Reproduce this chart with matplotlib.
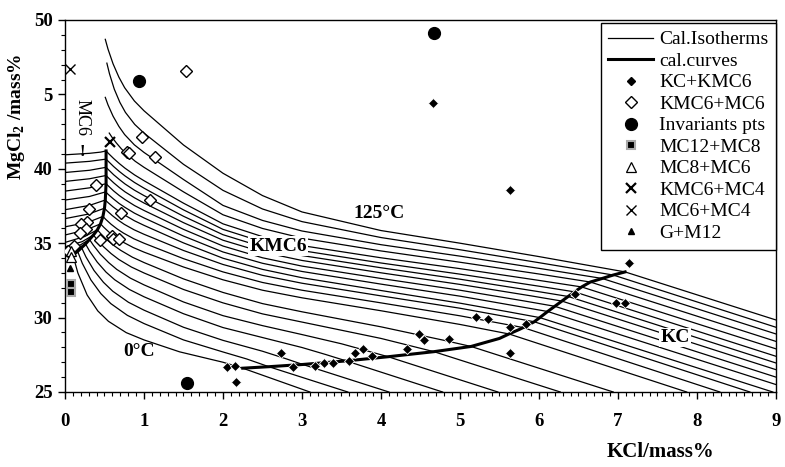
import numpy as np
import matplotlib
matplotlib.use("Agg")
import matplotlib.pyplot as plt
from matplotlib.lines import Line2D

plt.rcParams["font.family"] = ["Liberation Serif", "DejaVu Serif"]
plt.rcParams["mathtext.fontset"] = "custom"
plt.rcParams["mathtext.rm"] = "Liberation Serif"
plt.rcParams["mathtext.bf"] = "Liberation Serif:bold"

# ******************************************************************************************************************** #
# calculated isotherms (0 C at index 0 ... 125 C at the end)

iso_x = [
    [0, 0.10, 0.163, 0.28, 0.415, 0.55, 0.775, 1.0, 1.45, 2.0, 2.25, 3.10],
    [0, 0.10, 0.16, 0.219, 0.328, 0.454, 0.58, 0.79, 1.0, 1.5, 2.0, 2.3, 2.58, 3.58],
    [0, 0.13, 0.21, 0.265, 0.368, 0.487, 0.605, 0.803, 1.0, 1.5, 2.0, 2.5, 2.8, 3.01, 4.10],
    [0, 0.16, 0.26, 0.312, 0.408, 0.519, 0.63, 0.815, 1.0, 1.5, 2.0, 2.5, 3.0, 3.3, 3.56, 4.78],
    [0, 0.19, 0.31, 0.358, 0.448, 0.552, 0.655, 0.828, 1.0, 1.5, 2.0, 2.5, 3.0, 3.5, 3.8, 4.09, 5.48],
    [0, 0.22, 0.36, 0.405, 0.488, 0.584, 0.68, 0.84, 1.0, 1.5, 2.0, 2.5, 3.0, 4.0, 4.4, 4.67, 6.27],
    [0, 0.25, 0.41, 0.451, 0.528, 0.617, 0.705, 0.853, 1.0, 1.5, 2.0, 2.5, 3.0, 4.0, 4.8, 5.14, 6.94],
    [0, 0.27, 0.45, 0.489, 0.56, 0.643, 0.725, 0.863, 1.0, 1.5, 2.0, 2.5, 3.0, 4.0, 5.0, 5.62, 7.87],
    [0, 0.29, 0.48, 0.516, 0.584, 0.662, 0.74, 0.87, 1.0, 1.5, 2.0, 2.5, 3.0, 4.0, 5.0, 5.80, 8.29],
    [0, 0.30, 0.50, 0.535, 0.6, 0.675, 0.75, 0.875, 1.0, 1.5, 2.0, 2.5, 3.0, 4.0, 5.0, 5.6, 5.94, 8.67],
    [0, 0.31, 0.51, 0.544, 0.608, 0.682, 0.755, 0.878, 1.0, 1.5, 2.0, 2.5, 3.0, 4.0, 5.0, 5.6, 6.01, 8.96],
    [0, 0.31, 0.515, 0.549, 0.612, 0.685, 0.758, 0.879, 1.0, 1.5, 2.0, 2.5, 3.0, 4.0, 5.0, 5.7, 6.11, 9.0],
    [0, 0.31, 0.52, 0.554, 0.616, 0.688, 0.76, 0.88, 1.0, 1.5, 2.0, 2.5, 3.0, 4.0, 5.0, 5.8, 6.20, 9.0],
    [0, 0.31, 0.52, 0.554, 0.616, 0.688, 0.76, 0.88, 1.0, 1.5, 2.0, 2.5, 3.0, 4.0, 5.0, 5.9, 6.29, 9.0],
    [0, 0.31, 0.52, 0.554, 0.616, 0.688, 0.76, 0.88, 1.0, 1.5, 2.0, 2.5, 3.0, 4.0, 5.0, 6.0, 6.37, 9.0],
    [0, 0.31, 0.52, 0.554, 0.616, 0.688, 0.76, 0.88, 1.0, 1.5, 2.0, 2.5, 3.0, 4.0, 5.0, 6.0, 6.45, 9.0],
    [0, 0.31, 0.45, 0.52, 0.554, 0.616, 0.688, 0.76, 0.88, 1.0, 1.5, 2.0, 2.5, 3.0, 4.0, 5.0, 6.0, 6.54, 9.0],
    [0.56, 0.591, 0.648, 0.714, 0.78, 0.89, 1.0, 1.5, 2.0, 2.5, 3.0, 4.0, 5.0, 6.0, 6.65, 9.0],
    [0.51, 0.544, 0.608, 0.682, 0.755, 0.878, 1.0, 1.5, 2.0, 2.5, 3.0, 4.0, 5.0, 6.0, 6.80, 9.0],
    [0.53, 0.563, 0.624, 0.695, 0.765, 0.883, 1.0, 1.5, 2.0, 2.5, 3.0, 4.0, 5.0, 6.0, 6.94, 9.0],
    [0.51, 0.544, 0.608, 0.682, 0.755, 0.878, 1.0, 1.5, 2.0, 2.5, 3.0, 4.0, 5.0, 6.0, 7.09, 9.0],
]
iso_y = [
    [34.25, 34.2, 33.0, 31.52, 30.45, 29.75, 28.99, 28.5, 27.7, 27.0, 26.6, 25.0],
    [34.3, 34.37, 34.45, 33.65, 32.53, 31.61, 30.94, 30.15, 29.6, 28.5, 27.69, 27.22, 26.7, 25.0],
    [34.35, 34.5, 34.7, 34.08, 33.16, 32.37, 31.77, 31.03, 30.5, 29.35, 28.47, 27.74, 27.23, 26.85, 25.0],
    [34.4, 34.65, 34.95, 34.46, 33.73, 33.06, 32.54, 31.89, 31.4, 30.26, 29.33, 28.66, 27.99, 27.52, 27.09, 25.0],
    [34.55, 34.87, 35.25, 34.87, 34.26, 33.70, 33.24, 32.65, 32.2, 31.05, 30.13, 29.46, 28.86, 28.24, 27.80, 27.37, 25.0],
    [34.75, 35.11, 35.55, 35.25, 34.76, 34.30, 33.91, 33.40, 33.0, 31.89, 30.99, 30.25, 29.70, 28.60, 28.07, 27.71, 25.0],
    [35.05, 35.45, 35.9, 35.65, 35.24, 34.85, 34.52, 34.06, 33.7, 32.60, 31.69, 30.94, 30.39, 29.38, 28.47, 28.06, 25.0],
    [35.55, 35.9, 36.3, 36.08, 35.73, 35.38, 35.10, 34.71, 34.4, 33.40, 32.54, 31.84, 31.33, 30.46, 29.54, 28.9, 25.0],
    [36.1, 36.4, 36.8, 36.60, 36.27, 35.95, 35.68, 35.30, 35.0, 33.96, 33.07, 32.36, 31.84, 30.99, 30.12, 29.33, 25.0],
    [36.65, 36.96, 37.35, 37.16, 36.85, 36.54, 36.27, 35.90, 35.6, 34.51, 33.57, 32.84, 32.31, 31.46, 30.63, 30.05,
     29.72, 25.0],
    [37.25, 37.54, 37.9, 37.73, 37.44, 37.15, 36.89, 36.51, 36.2, 35.02, 33.99, 33.24, 32.68, 31.82, 30.97, 30.40,
     30.0, 25.0],
    [37.9, 38.14, 38.45, 38.27, 37.98, 37.67, 37.41, 37.02, 36.7, 35.48, 34.41, 33.65, 33.10, 32.25, 31.44, 30.79,
     30.41, 25.5],
    [38.5, 38.72, 39.0, 38.82, 38.51, 38.20, 37.93, 37.53, 37.2, 35.93, 34.81, 34.02, 33.46, 32.63, 31.84, 31.13,
     30.76, 26.0],
    [39.15, 39.33, 39.55, 39.37, 39.06, 38.74, 38.45, 38.05, 37.7, 36.38, 35.20, 34.40, 33.84, 33.01, 32.23, 31.46,
     31.11, 26.5],
    [39.75, 39.9, 40.1, 39.92, 39.60, 39.28, 38.98, 38.56, 38.2, 36.81, 35.57, 34.75, 34.17, 33.35, 32.58, 31.74,
     31.42, 26.95],
    [40.38, 40.5, 40.65, 40.47, 40.15, 39.82, 39.52, 39.08, 38.7, 37.24, 35.93, 35.09, 34.50, 33.67, 32.92, 32.11,
     31.73, 27.4],
    [40.94, 41.04, 41.12, 41.2, 41.01, 40.69, 40.35, 40.04, 39.59, 39.2, 37.69, 36.30, 35.44, 34.84, 34.02, 33.29,
     32.50, 32.06, 27.9],
    [42.4, 42.15, 41.75, 41.34, 40.99, 40.50, 40.1, 38.45, 36.91, 35.99, 35.34, 34.48, 33.72, 32.93, 32.39, 28.4],
    [44.8, 44.30, 43.54, 42.85, 42.30, 41.61, 41.1, 39.28, 37.54, 36.53, 35.82, 34.90, 34.13, 33.31, 32.63, 28.9],
    [47.1, 46.39, 45.35, 44.46, 43.79, 42.98, 42.4, 40.30, 38.55, 37.30, 36.45, 35.38, 34.56, 33.69, 32.86, 29.35],
    [48.7, 48.05, 47.06, 46.16, 45.45, 44.56, 43.9, 41.6, 39.7, 38.2, 37.1, 35.85, 35.0, 34.1, 33.07, 29.84],
]

# calculated phase boundaries (thick curves)
cal_mc6_x = [0.52, 0.52, 0.52, 0.515, 0.51, 0.50, 0.48, 0.45, 0.41, 0.36, 0.31, 0.26, 0.21, 0.16, 0.10]
cal_mc6_y = [41.2, 40.1, 39.0, 38.45, 37.9, 37.35, 36.8, 36.3, 35.9, 35.55, 35.25, 34.95, 34.7, 34.45, 34.2]
cal_kc_x = [2.25, 2.58, 3.01, 3.56, 4.09, 4.67, 5.14, 5.5, 5.62, 5.75, 5.80, 5.94, 6.01, 6.11, 6.20, 6.29,
            6.37, 6.45, 6.54, 6.65, 6.80, 6.94, 7.09]
cal_kc_y = [26.6, 26.7, 26.85, 27.09, 27.37, 27.71, 28.06, 28.6, 28.9, 29.2, 29.33, 29.72, 30.0, 30.41, 30.76,
            31.11, 31.42, 31.73, 32.06, 32.39, 32.63, 32.86, 33.07]

# experimental points
kc_kmc6_x = [2.05, 2.15, 2.17, 2.74, 2.89, 3.17, 3.28, 3.39, 3.60, 3.67, 3.77, 3.88, 4.33, 4.48, 4.54, 4.86,
             5.20, 5.36, 5.63, 5.63, 5.84, 6.46, 6.98, 7.09, 7.14, 5.63, 4.66]
kc_kmc6_y = [26.66, 26.78, 25.64, 27.64, 26.66, 26.75, 26.95, 26.93, 27.07, 27.64, 27.87, 27.42, 27.87, 28.89,
             28.47, 28.56, 30.06, 29.89, 29.35, 27.64, 29.57, 31.59, 30.96, 30.96, 33.7, 38.58, 44.4]
kmc6_mc6_x = [1.53, 0.98, 0.79, 0.81, 1.14, 0.39, 1.08, 0.30, 0.71, 0.28, 0.20, 0.27, 0.19, 0.44, 0.59, 0.61,
              0.68, 0.11, 0.04]
kmc6_mc6_y = [46.54, 42.13, 41.16, 41.06, 40.8, 38.9, 37.88, 37.3, 37.04, 36.45, 36.3, 35.98, 35.7, 35.22,
              35.48, 35.26, 35.28, 34.82, 34.5]
inv_x = [0.94, 4.67, 1.55]
inv_y = [45.91, 49.1, 25.63]
mc12_mc8_x = [0.07, 0.07]
mc12_mc8_y = [32.26, 31.7]
mc8_mc6_x = [0.07, 0.07]
mc8_mc6_y = [34.45, 34.1]
kmc6_mc4_x = [0.57]
kmc6_mc4_y = [41.8]
mc6_mc4_x = [0.06]
mc6_mc4_y = [46.7]
g_m12_x = [0.06]
g_m12_y = [33.31]

x_ticks = [0, 1, 2, 3, 4, 5, 6, 7, 8, 9]
y_ticks = [25, 30, 35, 40, 45, 50]
y_tick_labels = ["25", "30", "35", "40", "5", "50"]

# ******************************************************************************************************************** #

fig = plt.figure(figsize=(7.85, 4.67), dpi=100)
ax = fig.add_axes([0.0828, 0.1606, 0.9057, 0.7966])

for xs, ys in zip(iso_x, iso_y):
    ax.plot(xs, ys, "k-", lw=0.9, zorder=2)

ax.plot(cal_mc6_x, cal_mc6_y, "k-", lw=2.2, zorder=3)
ax.plot(cal_kc_x, cal_kc_y, "k-", lw=2.2, zorder=3)

ax.plot(kc_kmc6_x, kc_kmc6_y, "D", ms=4.8, mfc="k", mec="white", mew=0.6, ls="none", zorder=5)
ax.plot(kmc6_mc6_x, kmc6_mc6_y, "D", ms=6, mfc="white", mec="k", mew=1.0, ls="none", zorder=5)
ax.plot(inv_x, inv_y, "o", ms=8.5, mfc="k", mec="k", ls="none", zorder=5, clip_on=False)
ax.plot(mc12_mc8_x, mc12_mc8_y, "s", ms=6, mfc="k", mec="#aaaaaa", mew=1.5, ls="none", zorder=5, clip_on=False)
ax.plot(mc8_mc6_x, mc8_mc6_y, "^", ms=6.5, mfc="white", mec="k", mew=0.9, ls="none", zorder=5, clip_on=False)
ax.plot(kmc6_mc4_x, kmc6_mc4_y, "x", ms=7, mec="k", mew=1.6, ls="none", zorder=5)
ax.plot(mc6_mc4_x, mc6_mc4_y, "x", ms=7, mec="k", mew=1.0, ls="none", zorder=5, clip_on=False)
ax.plot(g_m12_x, g_m12_y, "^", ms=4.5, mfc="k", mec="k", ls="none", zorder=5, clip_on=False)

# region labels
box = dict(facecolor="white", edgecolor="none", pad=1.0)
ax.text(3.97, 37.02, "125°C", fontsize=14, fontweight="bold", ha="center", va="center", zorder=6)
ax.text(2.70, 34.8, "KMC6", fontsize=14, fontweight="bold", ha="center", va="center", bbox=box, zorder=4)
ax.text(0.94, 27.7, "0°C", fontsize=14, fontweight="bold", ha="center", va="center", zorder=6)
ax.text(7.72, 28.66, "KC", fontsize=14, fontweight="bold", ha="center", va="center", bbox=box, zorder=4)
ax.text(0.22, 43.45, "MC6", fontsize=13, rotation=-90, ha="center", va="center", zorder=6)
ax.text(0.22, 41.15, "!", fontsize=12, fontweight="bold", ha="center", va="center", zorder=6)

ax.set_xlim(0, 9)
ax.set_ylim(25, 50)
ax.set_xticks(x_ticks)
ax.set_xticklabels([str(v) for v in x_ticks])
ax.set_yticks(y_ticks)
ax.set_yticklabels(y_tick_labels)
ax.set_xticks(np.arange(0, 9.01, 0.1), minor=True)
ax.set_yticks(np.arange(25, 50.01, 1), minor=True)
ax.tick_params(which="major", direction="out", length=5, width=1.0, labelsize=13.5)
ax.tick_params(which="minor", direction="out", length=3, width=0.8)
ax.tick_params(axis="x", which="major", pad=10)
ax.tick_params(axis="y", which="major", pad=4)
for lab in ax.get_xticklabels() + ax.get_yticklabels():
    lab.set_fontweight("bold")
for sp in ax.spines.values():
    sp.set_linewidth(1.0)

ax.set_xlabel("KCl/mass%", fontsize=15, fontweight="bold")
ax.xaxis.set_label_coords(0.837, -0.135)
ax.set_ylabel(r"MgCl$_\mathbf{2}$ /mass%", fontsize=14, fontweight="bold")
ax.yaxis.set_label_coords(-0.054, 0.74)

handles = [
    Line2D([], [], color="k", lw=0.9),
    Line2D([], [], color="k", lw=2.2),
    Line2D([], [], marker="D", ms=4, mfc="k", mec="k", ls="none"),
    Line2D([], [], marker="D", ms=6, mfc="white", mec="k", mew=1.0, ls="none"),
    Line2D([], [], marker="o", ms=8.5, mfc="k", mec="k", ls="none"),
    Line2D([], [], marker="s", ms=6, mfc="k", mec="#aaaaaa", mew=1.5, ls="none"),
    Line2D([], [], marker="^", ms=6.5, mfc="white", mec="k", mew=0.9, ls="none"),
    Line2D([], [], marker="x", ms=7, mec="k", mew=1.6, ls="none"),
    Line2D([], [], marker="x", ms=7, mec="k", mew=1.0, ls="none"),
    Line2D([], [], marker="^", ms=4.5, mfc="k", mec="k", ls="none"),
]
labels = ["Cal.Isotherms", "cal.curves", "KC+KMC6", "KMC6+MC6", "Invariants pts", "MC12+MC8",
          "MC8+MC6", "KMC6+MC4", "MC6+MC4", "G+M12"]
leg = ax.legend(handles, labels, loc="upper right", bbox_to_anchor=(1.0, 0.992), borderaxespad=0,
                fontsize=14, frameon=True, fancybox=False, framealpha=1, edgecolor="k",
                handlelength=2.3, handletextpad=0.3, labelspacing=0.2, borderpad=0.4)
leg.get_frame().set_linewidth(1.0)
leg.set_zorder(10)

plt.savefig("out.png", dpi=100)
plt.close(fig)
